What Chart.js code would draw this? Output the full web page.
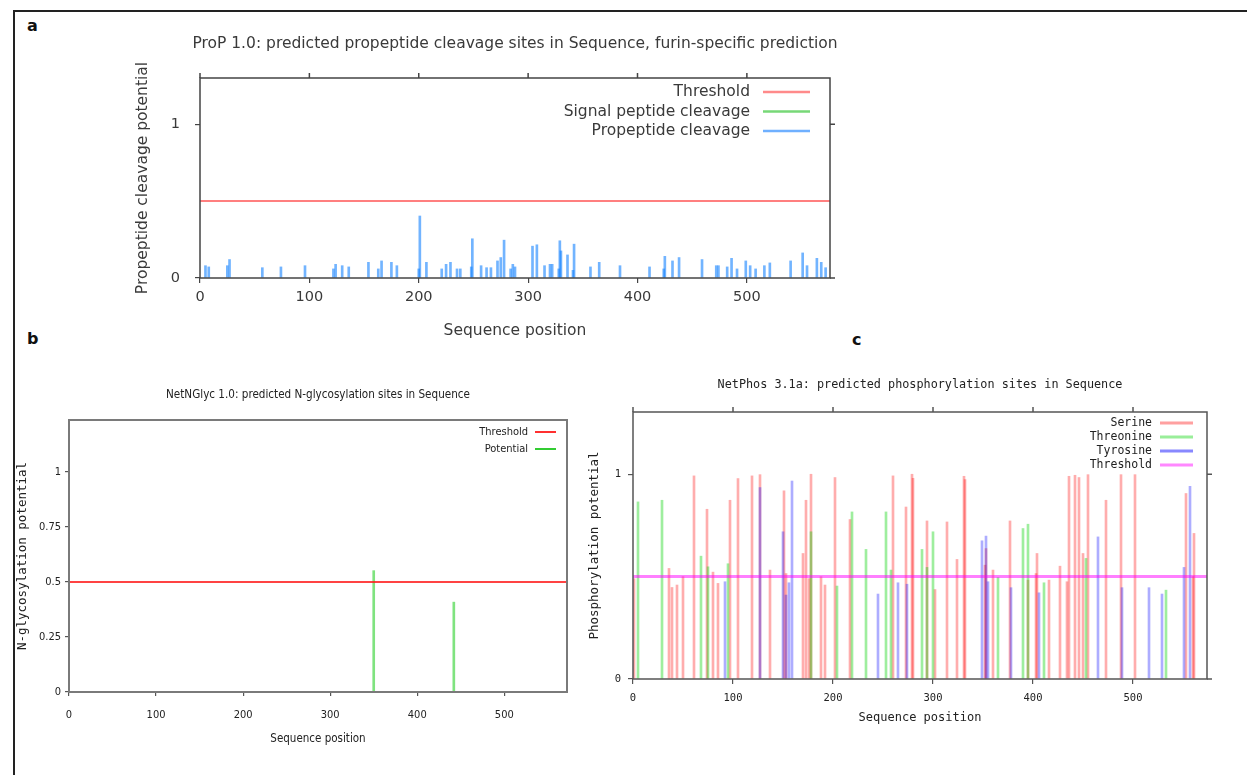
<!DOCTYPE html>
<html>
<head>
<meta charset="utf-8">
<script src="https://cdn.jsdelivr.net/npm/chart.js@4.4.1/dist/chart.umd.min.js"></script>
<style>
body { margin: 0; background: #fff; }
#page { position: relative; width: 1247px; height: 775px; overflow: hidden; background: #fff; }
#frame { position: absolute; left: 13px; top: 10px; width: 1260px; height: 800px; border-left: 2px solid #222; border-top: 2px solid #222; }
.lbl { position: absolute; font: bold 16px 'DejaVu Sans', sans-serif; color: #111; }
canvas { position: absolute; }
</style>
</head>
<body>
<div id="page">
  <div id="frame"></div>
  <div class="lbl" style="left:27px;top:16px;">a</div>
  <div class="lbl" style="left:27px;top:329px;">b</div>
  <div class="lbl" style="left:852px;top:330px;">c</div>
  <canvas id="propChart" width="900" height="350" style="left:0;top:0;"></canvas>
  <canvas id="glycChart" width="600" height="400" style="left:0;top:360px;"></canvas>
  <canvas id="phosChart" width="672" height="400" style="left:575px;top:360px;"></canvas>
</div>
<script>
// Panel a - ProP 1.0 propeptide cleavage
const propPos = [5, 8, 25, 27, 57, 74, 96, 122, 124, 130, 136, 154, 163, 166, 175, 180, 200, 201, 207, 221, 225, 229, 235, 238, 248, 249, 257, 262, 266, 272, 275, 278, 284, 286, 288, 304, 308, 315, 320, 322, 328, 329, 330, 336, 341, 342, 357, 365, 384, 411, 424, 425, 432, 438, 459, 472, 474, 482, 486, 491, 499, 503, 508, 516, 521, 540, 551, 555, 564, 568, 572];
const propVal = [0.08, 0.072, 0.08, 0.12, 0.067, 0.072, 0.08, 0.059, 0.089, 0.08, 0.072, 0.102, 0.059, 0.111, 0.102, 0.08, 0.059, 0.403, 0.102, 0.059, 0.089, 0.102, 0.059, 0.059, 0.072, 0.255, 0.08, 0.067, 0.067, 0.111, 0.133, 0.246, 0.059, 0.089, 0.072, 0.207, 0.216, 0.08, 0.089, 0.089, 0.059, 0.242, 0.176, 0.15, 0.05, 0.22, 0.072, 0.102, 0.08, 0.072, 0.059, 0.141, 0.111, 0.133, 0.12, 0.08, 0.08, 0.072, 0.128, 0.059, 0.111, 0.08, 0.059, 0.08, 0.098, 0.111, 0.163, 0.08, 0.128, 0.102, 0.067];
const signalPos = [];
const signalVal = [];
const propThreshold = 0.5;
const propLength = 576;
const propYMax = 1.3;
const propXTicks = [0, 100, 200, 300, 400, 500];
const propYTicks = [0, 1];

// Panel b - NetNGlyc 1.0
const glycPos = [350, 442];
const glycVal = [0.551, 0.408];
const glycThreshold = 0.5;
const glycLength = 572;
const glycYMax = 1.235;
const glycXTicks = [0, 100, 200, 300, 400, 500];
const glycYTicks = [0, 0.25, 0.5, 0.75, 1];

// Panel c - NetPhos 3.1a
const serPos = [1, 36, 39, 44, 50, 61, 74, 80, 85, 97, 105, 119, 127, 137, 151, 153, 170, 173, 176, 178, 188, 192, 202, 217, 260, 273, 279, 280, 294, 302, 314, 324, 331, 332, 352, 353, 360, 377, 395, 403, 404, 416, 427, 434, 436, 442, 446, 450, 455, 473, 488, 502, 553, 560, 561];
const serVal = [0.49, 0.54, 0.447, 0.459, 0.50, 0.992, 0.829, 0.522, 0.467, 0.873, 0.979, 0.992, 0.998, 0.532, 0.919, 0.515, 0.613, 0.873, 0.49, 1.0, 0.50, 0.459, 0.984, 0.779, 0.992, 0.84, 1.0, 0.98, 0.772, 0.437, 0.767, 0.584, 0.99, 0.974, 0.556, 0.637, 0.532, 0.772, 0.483, 0.515, 0.613, 0.483, 0.551, 0.475, 0.99, 0.995, 0.984, 0.613, 0.998, 0.873, 0.998, 0.998, 0.906, 0.50, 0.711];
const thrPos = [5, 29, 68, 75, 95, 178, 204, 219, 233, 253, 258, 289, 294, 300, 365, 390, 395, 411, 453, 533];
const thrVal = [0.865, 0.873, 0.6, 0.548, 0.563, 0.719, 0.454, 0.816, 0.633, 0.816, 0.532, 0.633, 0.545, 0.719, 0.496, 0.735, 0.756, 0.47, 0.589, 0.434];
const tyrPos = [92, 127, 150, 153, 156, 159, 245, 265, 274, 349, 353, 355, 378, 406, 465, 489, 516, 529, 551, 557];
const tyrVal = [0.475, 0.935, 0.719, 0.41, 0.47, 0.967, 0.415, 0.47, 0.463, 0.675, 0.698, 0.475, 0.446, 0.421, 0.694, 0.446, 0.446, 0.415, 0.545, 0.941];
const phosThreshold = 0.5;
const phosLength = 574;
const phosYMax = 1.304;
const phosXTicks = [0, 100, 200, 300, 400, 500];
const phosYTicks = [0, 1];

const MONO = "'DejaVu Sans Mono', monospace";
const NARROW = "'Liberation Sans Narrow', 'DejaVu Sans Condensed', 'Arial Narrow', sans-serif";
const SANS = "'DejaVu Sans', sans-serif";

function pts(pos, val) {
    return pos.map(function(x, i) { return { x: x, y: val[i] }; });
}

function bars(label, pos, val, fill, key, order) {
    return {
        type: 'bar', label: label, data: pts(pos, val),
        backgroundColor: fill, borderWidth: 0, barThickness: 2,
        grouped: false, keyColor: key, order: order
    };
}

function threshold(label, value, len, color, width, key, order) {
    return {
        type: 'line', label: label, data: [{ x: 0, y: value }, { x: len, y: value }],
        borderColor: color, borderWidth: width, pointRadius: 0, keyColor: key, order: order
    };
}

// box, mirrored ticks, title and gnuplot-like key inside the plot
const gnuFrame = {
    id: 'gnuFrame',
    afterDraw(chart, args, o) {
        const ctx = chart.ctx, a = chart.chartArea, sx = chart.scales.x, sy = chart.scales.y;
        ctx.save();
        ctx.strokeStyle = o.boxColor;
        ctx.lineWidth = o.boxWidth;
        ctx.strokeRect(a.left, a.top, a.right - a.left, a.bottom - a.top);
        if (o.mirror) {
            ctx.beginPath();
            sx.ticks.forEach(function(t) {
                const px = sx.getPixelForValue(t.value);
                ctx.moveTo(px, a.top); ctx.lineTo(px, a.top - o.tickLen);
            });
            sy.ticks.forEach(function(t) {
                const py = sy.getPixelForValue(t.value);
                ctx.moveTo(a.right, py); ctx.lineTo(a.right + o.tickLen, py);
            });
            ctx.stroke();
        }
        ctx.fillStyle = o.titleColor;
        ctx.font = o.titleFont;
        ctx.textAlign = 'center';
        ctx.textBaseline = 'middle';
        ctx.fillText(o.title, (a.left + a.right) / 2, a.top - o.titleGap);
        ctx.font = o.keyFont;
        ctx.textAlign = 'right';
        chart.data.datasets.forEach(function(ds, i) {
            const y = a.top + o.keyTop + i * o.keyRow;
            ctx.fillStyle = o.textColor;
            ctx.fillText(ds.label, a.right - o.keyText, y);
            ctx.strokeStyle = ds.keyColor;
            ctx.lineWidth = o.keyWidth;
            ctx.beginPath();
            ctx.moveTo(a.right - o.keyLine[0], y);
            ctx.lineTo(a.right - o.keyLine[1], y);
            ctx.stroke();
        });
        ctx.restore();
    }
};

function axes(o) {
    return {
        x: {
            type: 'linear', min: 0, max: o.xmax, offset: false,
            afterBuildTicks: function(s) { s.ticks = o.xticks.map(function(v) { return { value: v }; }); },
            afterFit: function(s) { s.height = o.xh; },
            grid: { drawOnChartArea: false, drawTicks: true, tickLength: o.tickLen, color: o.axisColor, lineWidth: 1.2, offset: false },
            border: { display: false },
            ticks: { font: o.tickFont, color: o.textColor, padding: o.xpad, maxRotation: 0, autoSkip: false,
                     callback: function(v) { return String(v); } },
            title: { display: true, text: o.xtitle, font: o.xtitleFont, color: o.textColor, padding: 0 }
        },
        y: {
            type: 'linear', min: 0, max: o.ymax,
            afterBuildTicks: function(s) { s.ticks = o.yticks.map(function(v) { return { value: v }; }); },
            afterFit: function(s) { s.width = o.yw; },
            grid: { drawOnChartArea: false, drawTicks: true, tickLength: o.tickLen, color: o.axisColor, lineWidth: 1.2 },
            border: { display: false },
            ticks: { font: o.tickFont, color: o.textColor, padding: o.ypad, autoSkip: false,
                     callback: function(v) { return String(v); } },
            title: { display: true, text: o.ytitle, font: o.ytitleFont, color: o.textColor, padding: 0 }
        }
    };
}

// Panel a
new Chart(document.getElementById('propChart'), {
    type: 'bar',
    data: {
        datasets: [
            threshold('Threshold', propThreshold, propLength, 'rgba(255,0,0,0.5)', 2, '#ff8a8a', 2),
            bars('Signal peptide cleavage', signalPos, signalVal, 'rgba(0,190,0,0.55)', '#77d877', 1),
            bars('Propeptide cleavage', propPos, propVal, 'rgba(20,130,255,0.6)', '#6fb0ff', 0)
        ]
    },
    options: {
        responsive: false, animation: false,
        layout: { padding: { left: 134, top: 78, right: 70, bottom: 10 } },
        plugins: {
            legend: { display: false }, tooltip: { enabled: false },
            gnuFrame: {
                boxColor: '#444', boxWidth: 1.5, mirror: true, tickLen: 5,
                title: 'ProP 1.0: predicted propeptide cleavage sites in Sequence, furin-specific prediction',
                titleFont: '15.5px ' + SANS, titleColor: '#3a3a3a', titleGap: 34, textColor: '#3a3a3a',
                keyFont: '15.5px ' + SANS, keyTop: 14, keyRow: 19.5, keyText: 80, keyLine: [67, 20], keyWidth: 2.5
            }
        },
        scales: axes({
            xmax: propLength, ymax: propYMax, xticks: propXTicks, yticks: propYTicks,
            xh: 62, yw: 66, tickLen: 5, xpad: 6, ypad: 15, axisColor: '#444', textColor: '#3a3a3a',
            tickFont: { family: SANS, size: 14.5 },
            xtitle: 'Sequence position', xtitleFont: { family: SANS, size: 15.5 },
            ytitle: 'Propeptide cleavage potential', ytitleFont: { family: SANS, size: 15.5 }
        })
    },
    plugins: [gnuFrame]
});

// Panel b
new Chart(document.getElementById('glycChart'), {
    type: 'bar',
    data: {
        datasets: [
            threshold('Threshold', glycThreshold, glycLength, 'rgba(255,20,20,0.8)', 2, '#ff3030', 0),
            bars('Potential', glycPos, glycVal, 'rgba(0,200,0,0.5)', '#33cc33', 1)
        ]
    },
    options: {
        responsive: false, animation: false,
        layout: { padding: { left: 15, top: 60, right: 33, bottom: 14 } },
        plugins: {
            legend: { display: false }, tooltip: { enabled: false },
            gnuFrame: {
                boxColor: '#7a7a7a', boxWidth: 2, mirror: false, tickLen: 4,
                title: 'NetNGlyc 1.0: predicted N-glycosylation sites in Sequence',
                titleFont: '11.6px ' + NARROW, titleColor: '#222', titleGap: 25, textColor: '#222',
                keyFont: '11px ' + NARROW, keyTop: 12, keyRow: 17, keyText: 39, keyLine: [32, 11], keyWidth: 2
            }
        },
        scales: axes({
            xmax: glycLength, ymax: glycYMax, xticks: glycXTicks, yticks: glycYTicks,
            xh: 54, yw: 54, tickLen: 4, xpad: 13, ypad: 4, axisColor: '#555', textColor: '#222',
            tickFont: { family: NARROW, size: 11 },
            xtitle: 'Sequence position', xtitleFont: { family: NARROW, size: 11.5 },
            ytitle: 'N-glycosylation potential', ytitleFont: { family: MONO, size: 12.5 }
        })
    },
    plugins: [gnuFrame]
});

// Panel c
new Chart(document.getElementById('phosChart'), {
    type: 'bar',
    data: {
        datasets: [
            bars('Serine', serPos, serVal, 'rgba(255,0,0,0.32)', '#ffa0a0', 3),
            bars('Threonine', thrPos, thrVal, 'rgba(0,210,0,0.38)', '#99ee99', 2),
            bars('Tyrosine', tyrPos, tyrVal, 'rgba(0,0,255,0.32)', '#8888ff', 1),
            threshold('Threshold', phosThreshold, phosLength, 'rgba(255,0,255,0.5)', 3, '#ff88ff', 0)
        ]
    },
    options: {
        responsive: false, animation: false,
        layout: { padding: { left: 12, top: 52, right: 40, bottom: 35 } },
        plugins: {
            legend: { display: false }, tooltip: { enabled: false },
            gnuFrame: {
                boxColor: '#555', boxWidth: 1.5, mirror: true, tickLen: 5,
                title: 'NetPhos 3.1a: predicted phosphorylation sites in Sequence',
                titleFont: '11.8px ' + MONO, titleColor: '#222', titleGap: 27, textColor: '#222',
                keyFont: '11.5px ' + MONO, keyTop: 11, keyRow: 14, keyText: 55, keyLine: [47, 14], keyWidth: 3
            }
        },
        scales: axes({
            xmax: phosLength, ymax: phosYMax, xticks: phosXTicks, yticks: phosYTicks,
            xh: 46, yw: 46, tickLen: 5, xpad: 8, ypad: 7, axisColor: '#555', textColor: '#222',
            tickFont: { family: MONO, size: 10.5 },
            xtitle: 'Sequence position', xtitleFont: { family: MONO, size: 12 },
            ytitle: 'Phosphorylation potential', ytitleFont: { family: MONO, size: 12.5 }
        })
    },
    plugins: [gnuFrame]
});
</script>
</body>
</html>
